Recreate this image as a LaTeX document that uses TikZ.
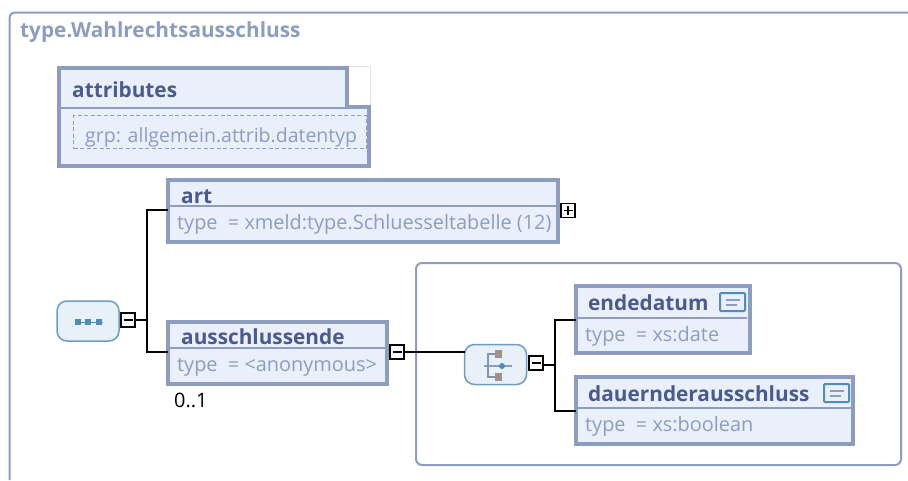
\documentclass[tikz,border=0pt]{standalone}
\usepackage{fontspec}
\setmainfont{Open Sans}
\usepackage{xcolor,color}
\usetikzlibrary{calc,positioning}
\definecolor{frameblue}{HTML}{8C9DBF}
\definecolor{boxfill}{HTML}{E9F0FB}
\definecolor{titleblue}{HTML}{4A5A8E}
\definecolor{compblue}{HTML}{6F9BC4}
\definecolor{compfill}{HTML}{E8F0F8}
\definecolor{notchblue}{HTML}{DDE4F2}
\definecolor{iconblue}{HTML}{4F8DB8}
\tikzset{
	elembox/.style={draw=frameblue,fill=boxfill,line width=4pt,outer sep=0pt,inner sep=0pt},
	divider/.style={draw=frameblue,line width=1.5pt},
	titletext/.style={anchor=base west,inner sep=0pt,text=titleblue,font=\fontsize{20.8}{21}\selectfont\bfseries},
	typetext/.style={anchor=base west,inner sep=0pt,text=frameblue,font=\fontsize{19.9}{20}\selectfont},
	compbox/.style={draw=compblue,fill=compfill,line width=1.5pt,rounded corners=10pt,minimum width=62pt,minimum height=40pt,inner sep=0pt,outer sep=0pt},
	togglebox/.style={draw=black,fill=white,line width=1.75pt,minimum size=14pt,inner sep=0pt,outer sep=.75pt},
	docbox/.style={draw=iconblue,fill=boxfill,line width=2pt,minimum width=25pt,minimum height=18pt,inner sep=0pt,rounded corners=1pt},
	conn/.style={draw=black,line width=2pt},
}
\begin{document}
\begin{tikzpicture}[x=1pt,y=-1pt]
	\useasboundingbox (0,0) rectangle (908,480);
	% outer frame, open to the right and below
	\draw[frameblue,line width=2pt,rounded corners=5pt] (908,12.5) -- (9.5,12.5) -- (9.5,480);
	\node[titletext,text=frameblue] (typename) at (20,37) {type.Wahlrechtsausschluss};
	% attributes
	\draw[notchblue,line width=1pt] (349,66.5) -- (370.5,66.5) -- (370.5,105);
	\draw[draw=frameblue,fill=boxfill,line width=4pt] (59,68) -- (347,68) -- (347,107) -- (369,107) -- (369,166) -- (59,166) -- cycle;
	\draw[divider] (59,108) -- (347,108);
	\node[titletext] (attrtitle) at (72,97) {attributes};
	\node[draw=frameblue,dashed,dash pattern=on 4pt off 2.5pt,line width=1.75pt,minimum width=293pt,minimum height=33pt,inner sep=0pt] (attrgroup) at (220,132) {};
	\node[typetext,font=\fontsize{19.5}{20}\selectfont] (attrtext) at (85,142) {grp: allgemein.attrib.datentyp};
	% group frame
	\node[draw=frameblue,line width=2pt,rounded corners=6pt,minimum width=485pt,minimum height=202pt,inner sep=0pt] (groupframe) at (658.5,364) {};
	% elements
	\node[elembox,minimum width=390pt,minimum height=62pt] (art) at (363,211) {};
	\node[elembox,minimum width=219pt,minimum height=62pt] (ausschlussende) at (277.5,353) {};
	\node[elembox,minimum width=174pt,minimum height=67pt] (endedatum) at (663,319.5) {};
	\node[elembox,minimum width=277pt,minimum height=67pt] (dauernd) at (714.5,410.5) {};
	\draw[divider] (168,206) -- (558,206);
	\draw[divider] (168,348) -- (387,348);
	\draw[divider] (576,318) -- (747,318);
	\draw[divider] (576,408) -- (851,408);
	\node[titletext] (arttitle) at (181,203) {art};
	\node[typetext] (arttype) at (177,229) {type\ \ = xmeld:type.Schluesseltabelle (12)};
	\node[titletext] (austitle) at (181,344) {ausschlussende};
	\node[typetext] (austype) at (177,371) {type\ \ = <anonymous>};
	\node[titletext] (endtitle) at (588,310) {endedatum};
	\node[typetext] (endtype) at (585,341) {type\ \ = xs:date};
	\node[titletext] (dautitle) at (588,401) {dauernderausschluss};
	\node[typetext] (dautype) at (585,431) {type\ \ = xs:boolean};
	\node[typetext,text=black] (occurs) at (174,407) {0..1};
	% documentation icons
	\foreach \name/\x/\y in {enddoc/732.5/302,daudoc/836.5/393} {
		\node[docbox] (\name) at (\x,\y) {};
		\draw[frameblue,line width=2pt] ($(\name)+(-7,-2.5)$) -- ($(\name)+(7,-2.5)$);
		\draw[frameblue,line width=2pt] ($(\name)+(-7,2.5)$) -- ($(\name)+(4,2.5)$);
	}
	% compositors
	\node[compbox] (seqcomp) at (88,321) {};
	\node[compbox] (choicecomp) at (495.5,364.5) {};
	\draw[iconblue,line width=1pt] (76,322) -- (103,322);
	\foreach \x in {78,88,99}
		\fill[iconblue] (\x-3,319) rectangle (\x+3,325);
	\draw[frameblue,line width=1.5pt] (484,366) -- (512,366);
	\draw[frameblue!70!gray,line width=2pt] (498,354) -- (488,354) -- (488,377) -- (498,377);
	\fill[frameblue!60!brown] (495,350) rectangle (502,358);
	\fill[frameblue!60!brown] (495,373) rectangle (502,381);
	\fill[iconblue] (502,366) circle (3);
	% toggles
	\node[togglebox] (seqminus) at (128,320) {};
	\node[togglebox] (ausminus) at (397,352) {};
	\node[togglebox] (choiceminus) at (536,363) {};
	\node[togglebox] (artplus) at (568,210.5) {};
	\foreach \name in {seqminus,ausminus,choiceminus,artplus}
		\draw[line width=1.75pt] ($(\name)+(-4.5,0)$) -- ($(\name)+(4.5,0)$);
	\draw[line width=1.75pt] ($(artplus)+(0,-4.5)$) -- ($(artplus)+(0,4.5)$);
	% connectors
	\coordinate (seqjoint) at (147,320);
	\coordinate (choicejoint) at (555,365);
	\draw[conn] (seqminus.east) -- (seqjoint);
	\draw[conn] ($(art.west)+(0,-1)$) -| (seqjoint) |- ($(ausschlussende.west)+(0,-1)$);
	\draw[conn] (ausminus.east) -- (ausminus.east -| choicecomp.west);
	\draw[conn] (choiceminus.east |- choicejoint) -- (choicejoint);
	\draw[conn] (endedatum.west) -| (choicejoint) |- (dauernd.west);
\end{tikzpicture}
\end{document}
